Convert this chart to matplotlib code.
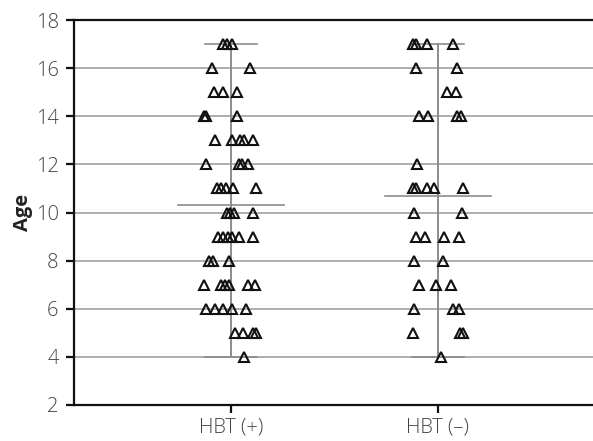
import matplotlib
matplotlib.use("Agg")
import matplotlib.pyplot as plt
import numpy as np

categories = ["HBT (+)", "HBT (\u2013)"]

# ages per group
ages_pos = [17, 17, 17, 16, 16, 15, 15, 15, 14, 14, 14,
            13, 13, 13, 13, 13, 12, 12, 12, 12,
            11, 11, 11, 11, 11, 10, 10, 10, 10,
            9, 9, 9, 9, 9, 9, 8, 8, 8,
            7, 7, 7, 7, 7, 7, 6, 6, 6, 6, 6,
            5, 5, 5, 5, 4]
jit_pos = [-0.039, -0.019, 0.005, -0.092, 0.092, -0.082, -0.039, 0.029, -0.130, -0.121, 0.029,
           -0.077, 0.005, 0.043, 0.063, 0.106, -0.121, 0.039, 0.053, 0.082,
           -0.068, -0.048, -0.024, 0.010, 0.121, -0.019, -0.005, 0.014, 0.106,
           -0.063, -0.039, -0.014, 0.005, 0.039, 0.106, -0.106, -0.087, -0.010,
           -0.130, -0.048, -0.029, -0.010, 0.082, 0.116, -0.121, -0.077, -0.039, 0.005, 0.072,
           0.019, 0.058, 0.106, 0.121, 0.063]

ages_neg = [17, 17, 17, 17, 16, 16, 15, 15, 14, 14, 14, 14,
            12, 11, 11, 11, 11, 11, 10, 10,
            9, 9, 9, 9, 8, 8, 7, 7, 7,
            6, 6, 6, 5, 5, 5, 4]
jit_neg = [-0.121, -0.106, -0.053, 0.072, -0.106, 0.092, 0.043, 0.087, -0.092, -0.048, 0.092, 0.111,
           -0.101, -0.121, -0.106, -0.053, -0.019, 0.121, -0.116, 0.116,
           -0.106, -0.063, 0.029, 0.101, -0.116, 0.024, -0.092, -0.010, 0.063,
           -0.116, 0.072, 0.101, -0.121, 0.106, 0.121, 0.014]

means = [10.3, 10.7]
yticks = [2, 4, 6, 8, 10, 12, 14, 16, 18]

plt.rcParams['font.family'] = ['Open Sans', 'DejaVu Sans']

fig = plt.figure(figsize=(5.93, 4.41), dpi=100)
ax = fig.add_axes([74/593, 36/441, 1 - 74/593, 385/441])

ax.set_xlim(0.24, 2.75)
ax.set_ylim(2, 18)
ax.set_yticks(yticks)
ax.set_xticks([1, 2])
ax.set_xticklabels(categories)

ax.yaxis.grid(True, color='#a0a0a0', linewidth=1.2)
ax.set_axisbelow(True)

groups = [(ages_pos, jit_pos), (ages_neg, jit_neg)]
for i, (ages, jit) in enumerate(groups):
    c = i + 1
    a = np.array(ages)
    ax.plot([c, c], [a.min(), a.max()], color='#8c8c8c', lw=1.4, zorder=2)
    for v in (a.min(), a.max()):
        ax.plot([c - 0.125, c + 0.125], [v, v], color='#8c8c8c', lw=1.2, zorder=2)
    ax.plot([c - 0.256, c + 0.256], [means[i], means[i]], color='#8c8c8c', lw=1.2, zorder=2)
    ax.plot(c + np.array(jit), a, linestyle='none', marker='^', markersize=7,
            mfc='none', mec='#111111', mew=1.5, zorder=3)

for s in ['right']:
    ax.spines[s].set_visible(False)
for s in ['left', 'bottom', 'top']:
    ax.spines[s].set_color('#111111')
    ax.spines[s].set_linewidth(1.6)

ax.tick_params(axis='both', direction='out', length=6, width=1.6, color='#111111',
               labelsize=14.5, labelcolor='#444444')
ax.tick_params(axis='x', pad=3)
ax.tick_params(axis='y', pad=5)
for lab in ax.get_xticklabels() + ax.get_yticklabels():
    lab.set_fontweight('light')

ax.set_ylabel('Age', fontsize=14.5, fontweight='bold', color='#222222', labelpad=2)

fig.savefig('out.png', dpi=100)
